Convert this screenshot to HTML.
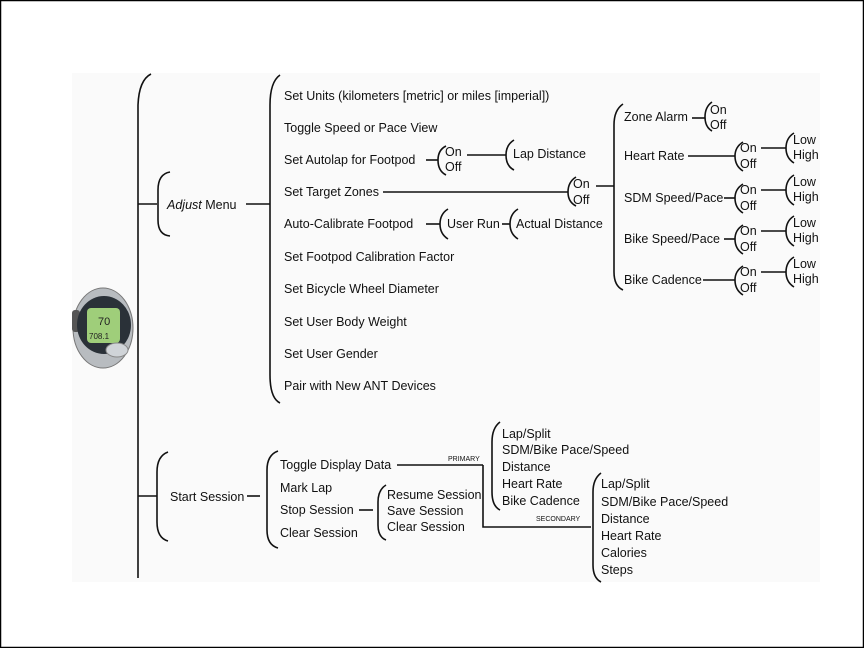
<!DOCTYPE html>
<html><head><meta charset="utf-8"><style>
html,body{margin:0;padding:0;background:#fff}
svg{display:block}
text{font-family:"Liberation Sans",sans-serif;font-size:12.5px;fill:#111}
.s{font-size:7px}
path,line{stroke:#111;fill:none;stroke-width:1.6}
</style></head><body>
<svg width="864" height="648" viewBox="0 0 864 648">
<rect x="0.5" y="0.5" width="863" height="647" fill="#fff" stroke="#000" stroke-width="1.5"/>
<rect x="72" y="73" width="748" height="509" fill="#fafafa"/>
<path d="M151 74 Q139 80 138 105 L138 578"/>
<line x1="138" y1="204" x2="157" y2="204"/>
<line x1="138" y1="496" x2="157" y2="496"/>
<path d="M170 172 Q158 174 158 190 L158 220 Q158 235 170 236"/>
<text x="167" y="209"><tspan font-style="italic">Adjust</tspan> Menu</text>
<line x1="246" y1="204" x2="270" y2="204"/>
<path d="M280 75 Q270 82 270 105 L270 375 Q270 398 280 403"/>
<text x="284" y="100">Set Units (kilometers [metric] or miles [imperial])</text>
<text x="284" y="132">Toggle Speed or Pace View</text>
<text x="284" y="164">Set Autolap for Footpod</text>
<text x="284" y="196">Set Target Zones</text>
<text x="284" y="228">Auto-Calibrate Footpod</text>
<text x="284" y="261">Set Footpod Calibration Factor</text>
<text x="284" y="293">Set Bicycle Wheel Diameter</text>
<text x="284" y="326">Set User Body Weight</text>
<text x="284" y="358">Set User Gender</text>
<text x="284" y="390">Pair with New ANT Devices</text>
<line x1="426" y1="160" x2="438" y2="160"/>
<path d="M446 146 Q438 150 438 160 Q438 171 446 175"/>
<text x="445" y="156">On</text><text x="445" y="171">Off</text>
<line x1="467" y1="155" x2="506" y2="155"/>
<path d="M514 140 Q506 145 506 155 Q506 166 514 170"/>
<text x="513" y="158">Lap Distance</text>
<line x1="383" y1="192" x2="568" y2="192"/>
<path d="M576 177 Q568 182 568 192 Q568 202 576 206"/>
<text x="573" y="188">On</text><text x="573" y="204">Off</text>
<line x1="596" y1="186" x2="614" y2="186"/>
<path d="M623 104 Q614 110 614 125 L614 272 Q614 286 623 290"/>
<text x="624" y="121">Zone Alarm</text>
<line x1="692" y1="118" x2="705" y2="118"/>
<path d="M712 102 Q705 107 705 117 Q705 127 712 131"/>
<text x="710" y="114">On</text><text x="710" y="129">Off</text>
<text x="624" y="160">Heart Rate</text>
<text x="624" y="202">SDM Speed/Pace</text>
<text x="624" y="243">Bike Speed/Pace</text>
<text x="624" y="284">Bike Cadence</text>
<g>
<line x1="688" y1="156" x2="735" y2="156"/>
<line x1="724" y1="198" x2="735" y2="198"/>
<line x1="724" y1="239" x2="735" y2="239"/>
<line x1="703" y1="280" x2="735" y2="280"/>
</g>
<g id="oo">
<path d="M743 142 Q735 147 735 156 Q735 166 743 171"/>
<text x="740" y="152">On</text><text x="740" y="168">Off</text>
<line x1="761" y1="148" x2="786" y2="148"/>
<path d="M794 133 Q786 138 786 148 Q786 158 794 163"/>
<text x="793" y="144">Low</text><text x="793" y="159">High</text>
</g>
<use href="#oo" y="42"/>
<use href="#oo" y="83"/>
<use href="#oo" y="124"/>
<line x1="426" y1="224" x2="440" y2="224"/>
<path d="M448 209 Q440 214 440 224 Q440 234 448 239"/>
<text x="447" y="228">User Run</text>
<line x1="502" y1="224" x2="510" y2="224"/>
<path d="M518 209 Q510 214 510 224 Q510 234 518 239"/>
<text x="516" y="228">Actual Distance</text>
<path d="M168 452 Q157 456 157 472 L157 522 Q157 538 168 541"/>
<text x="170" y="501">Start Session</text>
<line x1="247" y1="496" x2="260" y2="496"/>
<path d="M278 451 Q267 455 267 470 L267 530 Q267 545 278 548"/>
<text x="280" y="469">Toggle Display Data</text>
<text x="280" y="492">Mark Lap</text>
<text x="280" y="514">Stop Session</text>
<text x="280" y="537">Clear Session</text>
<line x1="397" y1="465" x2="483" y2="465"/>
<text class="s" x="448" y="461">PRIMARY</text>
<path d="M483 465 L483 527 L591 527"/>
<text class="s" x="536" y="521">SECONDARY</text>
<path d="M500 422 Q492 428 492 442 L492 492 Q492 506 500 510"/>
<text x="502" y="438">Lap/Split</text>
<text x="502" y="454">SDM/Bike Pace/Speed</text>
<text x="502" y="471">Distance</text>
<text x="502" y="488">Heart Rate</text>
<text x="502" y="505">Bike Cadence</text>
<path d="M601 473 Q593 479 593 492 L593 565 Q593 578 601 582"/>
<text x="601" y="488">Lap/Split</text>
<text x="601" y="506">SDM/Bike Pace/Speed</text>
<text x="601" y="523">Distance</text>
<text x="601" y="540">Heart Rate</text>
<text x="601" y="557">Calories</text>
<text x="601" y="574">Steps</text>
<line x1="359" y1="510" x2="373" y2="510"/>
<path d="M386 485 Q378 490 378 502 L378 525 Q378 537 386 540"/>
<text x="387" y="499">Resume Session</text>
<text x="387" y="515">Save Session</text>
<text x="387" y="531">Clear Session</text>
<g>
<ellipse cx="103" cy="328" rx="30" ry="40" fill="#b8bcc0" stroke="#777" stroke-width="1"/>
<rect x="72" y="310" width="8" height="22" rx="3" fill="#555"/>
<ellipse cx="104" cy="325" rx="27" ry="29" fill="#2a3138"/>
<rect x="87" y="308" width="33" height="35" rx="4" fill="#9fce7a"/>
<text x="98" y="325" style="font-size:11px;fill:#222">70</text>
<text x="89" y="339" style="font-size:8px;fill:#222">708.1</text>
<ellipse cx="117" cy="350" rx="11" ry="7" fill="#d0d4d8" stroke="#888" stroke-width="1"/>
</g>
</svg>
</body></html>
